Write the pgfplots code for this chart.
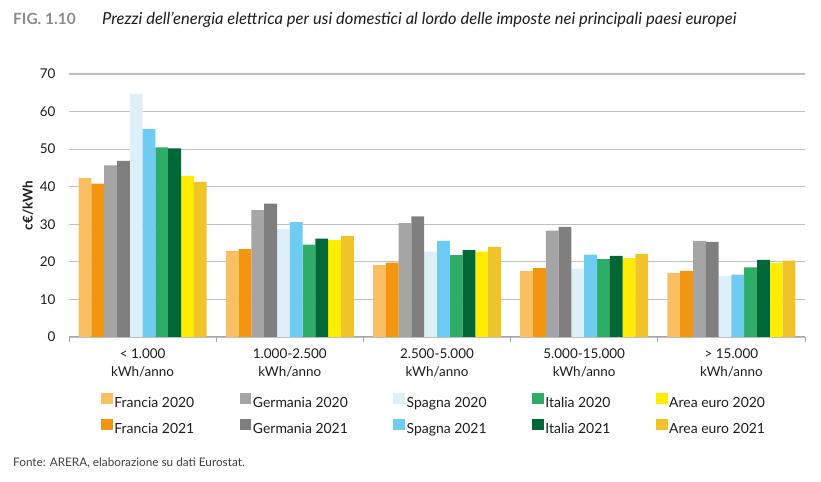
\documentclass[border=0pt]{standalone}
\usepackage{fontspec}
\setmainfont{Lato}
\usepackage{pgfplots}
\usepackage{pgfplotstable}
\pgfplotsset{compat=1.18}

% bar colours
\definecolor{fr20}{HTML}{FBBF63}
\definecolor{fr21}{HTML}{F39511}
\definecolor{ge20}{HTML}{A5A5A5}
\definecolor{ge21}{HTML}{7F7F7F}
\definecolor{sp20}{HTML}{DDEFF9}
\definecolor{sp21}{HTML}{6ECBF2}
\definecolor{it20}{HTML}{2EAD69}
\definecolor{it21}{HTML}{006837}
\definecolor{ar20}{HTML}{FFEC00}
\definecolor{ar21}{HTML}{F0C428}
\definecolor{txt}{HTML}{1D1D1B}
\definecolor{figgray}{HTML}{8C8C8C}
\definecolor{gridgray}{HTML}{C0C0C0}
\definecolor{axisgray}{HTML}{A6A6A6}

% prices in c€/kWh by consumption band (0 = <1.000 ... 4 = >15.000 kWh/anno)
\pgfplotstableread{
g  fr20 fr21 ge20 ge21 sp20 sp21 it20 it21 ar20 ar21
0  42.3 40.8 45.7 46.9 64.7 55.3 50.5 50.2 42.9 41.3
1  22.9 23.4 33.8 35.5 28.7 30.6 24.6 26.2 25.8 26.9
2  19.1 19.8 30.3 32.1 22.7 25.6 21.8 23.1 22.7 24.0
3  17.6 18.3 28.3 29.3 18.2 21.9 20.7 21.6 21.0 22.1
4  17.0 17.6 25.6 25.3 16.3 16.6 18.5 20.5 19.7 20.3
}\prices

\begin{document}
\begin{tikzpicture}[x=1bp,y=1bp]
\path[use as bounding box] (0,0) rectangle (821,482);

% heading
\node[anchor=base west, inner sep=0, text=figgray,
      font=\bfseries\fontsize{15.5}{17}\selectfont] at (13,457) {FIG. 1.10};
\node[anchor=base west, inner sep=0, text=txt,
      font=\itshape\fontsize{16.6}{18}\selectfont] at (102,457)
  {Prezzi dell’energia elettrica per usi domestici al lordo delle imposte nei principali paesi europei};

\begin{axis}[
  at={(69bp,145bp)}, anchor=south west,
  scale only axis, width=736bp, height=263bp,
  ybar, bar width=12.8bp,
  xmin=-0.5, xmax=4.5, ymin=0, ymax=70,
  ytick={0,10,...,70},
  xtick={0,1,2,3,4},
  xticklabels={{< 1.000\\kWh/anno},{1.000-2.500\\kWh/anno},{2.500-5.000\\kWh/anno},{5.000-15.000\\kWh/anno},{> 15.000\\kWh/anno}},
  xticklabel style={align=center, text=txt, yshift=-8.5bp,
    font=\fontsize{13.5}{17.6}\selectfont},
  yticklabel style={text=txt, xshift=-10bp, font=\fontsize{13.5}{15}\selectfont},
  /pgf/number format/assume math mode=true,
  major tick length=0pt,
  extra x ticks={-0.5,0.5,1.5,2.5,3.5,4.5},
  extra x tick labels={},
  extra x tick style={major tick length=5bp, tick align=outside,
    tick style={draw=axisgray, line width=1bp}},
  axis x line*=bottom,
  axis y line*=left,
  x axis line style={draw=axisgray, line width=1bp, -},
  y axis line style={draw=none},
  ymajorgrids,
  grid style={draw=gridgray, line width=1.2bp},
  ylabel={\bfseries c€/kWh},
  ylabel style={at={(axis description cs:-0.0557,0.5)}, anchor=center,
    text=txt, font=\fontsize{13.5}{15}\selectfont},
  legend columns=5,
  legend cell align=left,
  legend image code/.code={\fill[#1] (0bp,-1bp) rectangle (11.7bp,9.7bp);},
  legend style={at={(0.0435,-0.214)}, anchor=north west, draw=none, fill=none,
    inner sep=0pt, row sep=8.6bp, text=txt,
    font=\fontsize{14}{16}\selectfont,
    nodes={inner sep=1.5bp},
    /tikz/every even column/.append style={column sep=44bp}},
]
% plotted in legend order; bar shift puts each bar in its slot in the group
\addplot[fill=fr20, draw=none, bar shift=-57.6bp] table[x=g, y=fr20] {\prices};
\addlegendentry{Francia 2020}
\addplot[fill=ge20, draw=none, bar shift=-32bp] table[x=g, y=ge20] {\prices};
\addlegendentry{Germania 2020}
\addplot[fill=sp20, draw=none, bar shift=-6.4bp] table[x=g, y=sp20] {\prices};
\addlegendentry{Spagna 2020}
\addplot[fill=it20, draw=none, bar shift=19.2bp] table[x=g, y=it20] {\prices};
\addlegendentry{Italia 2020}
\addplot[fill=ar20, draw=none, bar shift=44.8bp] table[x=g, y=ar20] {\prices};
\addlegendentry{Area euro 2020}
\addplot[fill=fr21, draw=none, bar shift=-44.8bp] table[x=g, y=fr21] {\prices};
\addlegendentry{Francia 2021}
\addplot[fill=ge21, draw=none, bar shift=-19.2bp] table[x=g, y=ge21] {\prices};
\addlegendentry{Germania 2021}
\addplot[fill=sp21, draw=none, bar shift=6.4bp] table[x=g, y=sp21] {\prices};
\addlegendentry{Spagna 2021}
\addplot[fill=it21, draw=none, bar shift=32bp] table[x=g, y=it21] {\prices};
\addlegendentry{Italia 2021}
\addplot[fill=ar21, draw=none, bar shift=57.6bp] table[x=g, y=ar21] {\prices};
\addlegendentry{Area euro 2021}
\end{axis}

% source note
\node[anchor=west, inner sep=0, text=txt!85,
      font=\fontsize{11.8}{13}\selectfont] at (13,19)
  {Fonte: ARERA, elaborazione su dati Eurostat.};
\end{tikzpicture}
\end{document}
